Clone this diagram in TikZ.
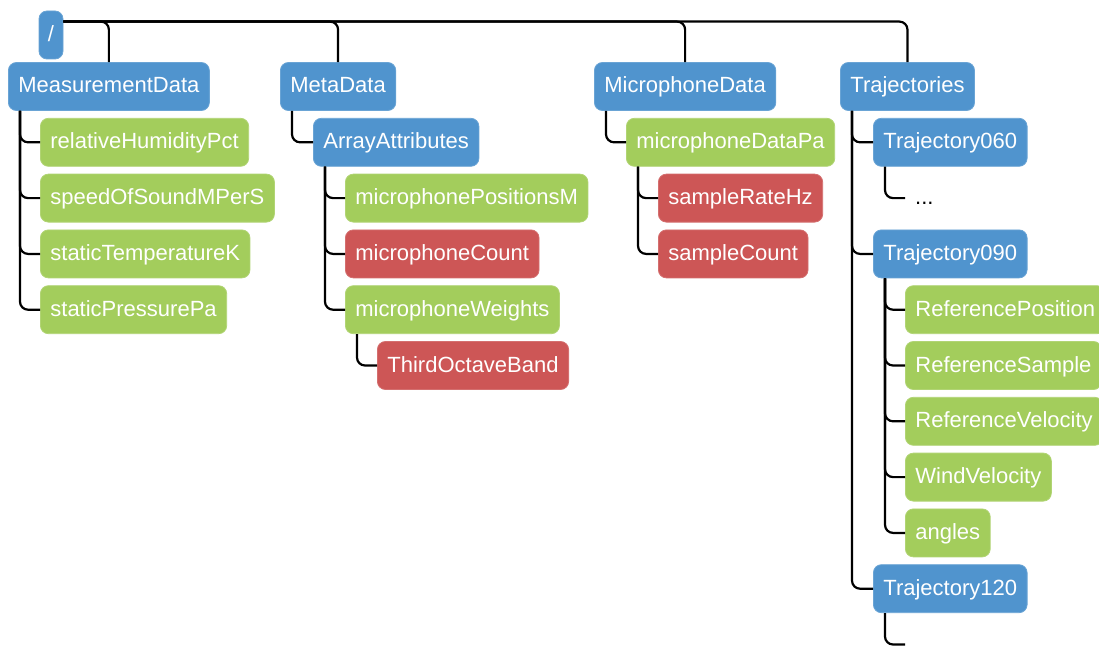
\documentclass[tikz,border=0pt]{standalone}
\usepackage{fontspec}
\setmainfont{Liberation Sans}
\definecolor{grpblue}{RGB}{80,148,206}
\definecolor{dsgreen}{RGB}{163,205,92}
\definecolor{atred}{RGB}{205,86,86}
\tikzset{
  box/.style={anchor=west, rounded corners=8pt, minimum height=48pt, inner xsep=10pt, inner ysep=0pt,
    text=white, text height=17pt, text depth=4pt, font=\fontsize{22}{26}\selectfont},
  grp/.style={box, fill=grpblue, draw=grpblue!85!white, line width=0.8pt},
  dset/.style={box, fill=dsgreen, draw=dsgreen!85!white, line width=0.8pt},
  attr/.style={box, fill=atred, draw=atred!85!white, line width=0.8pt},
  plain/.style={anchor=west, inner xsep=10pt, inner ysep=0pt, text=black, text height=17pt, text depth=4pt, font=\fontsize{22}{26}\selectfont},
  conn/.style={draw=black, line width=2.2pt, rounded corners=8pt},
}
\begin{document}
\begin{tikzpicture}[x=1pt,y=-1pt]
\useasboundingbox (0,0) rectangle (1099,647);
% root
\node[grp, anchor=center, minimum width=24pt, inner xsep=0pt] (root) at (51,35) {/};
% level 1
\node[grp] (md) at (8,86.5) {MeasurementData};
\node[grp] (meta) at (280,86.5) {MetaData};
\node[grp] (mic) at (594,86.5) {MicrophoneData};
\node[grp] (traj) at (840,86.5) {Trajectories};
% MeasurementData children
\node[dset] (rh) at (40,142.3) {relativeHumidityPct};
\node[dset] (sos) at (40,198.1) {speedOfSoundMPerS};
\node[dset] (st) at (40,253.9) {staticTemperatureK};
\node[dset] (sp) at (40,309.7) {staticPressurePa};
% MetaData
\node[grp] (aa) at (313,142.3) {ArrayAttributes};
\node[dset] (mpos) at (345,198.1) {microphonePositionsM};
\node[attr] (mcount) at (345,253.9) {microphoneCount};
\node[dset] (mw) at (345,309.7) {microphoneWeights};
\node[attr] (tob) at (377,365.5) {ThirdOctaveBand};
% MicrophoneData
\node[dset] (mdp) at (626,142.3) {microphoneDataPa};
\node[attr] (srh) at (658,198.1) {sampleRateHz};
\node[attr] (sc) at (658,253.9) {sampleCount};
% Trajectories
\node[grp] (t60) at (873,142.3) {Trajectory060};
\node[plain] (dots) at (905,198.1) {...};
\node[grp] (t90) at (873,253.9) {Trajectory090};
\node[dset] (rpos) at (905,309.7) {ReferencePosition};
\node[dset] (rsam) at (905,365.5) {ReferenceSample};
\node[dset] (rvel) at (905,421.3) {ReferenceVelocity};
\node[dset] (wv) at (905,477.1) {WindVelocity};
\node[dset] (ang) at (905,532.9) {angles};
\node[grp] (t120) at (873,588.7) {Trajectory120};
\coordinate (t120c) at (905,644.5);
% root connectors
\coordinate (rs) at ([yshift=-11pt]root.north east);
\foreach \c in {md,meta,mic,traj} {\draw[conn] (rs) -| (\c.north);}
% tree connectors
\foreach \p/\c in {md/rh,md/sos,md/st,md/sp,meta/aa,aa/mpos,aa/mcount,aa/mw,mw/tob,mic/mdp,mdp/srh,mdp/sc,traj/t60,t60/dots,traj/t90,t90/rpos,t90/rsam,t90/rvel,t90/wv,t90/ang,traj/t120}
  {\draw[conn] ([xshift=12pt]\p.south west) |- (\c.west);}
\draw[conn] ([xshift=12pt]t120.south west) |- (t120c);
\end{tikzpicture}
\end{document}
